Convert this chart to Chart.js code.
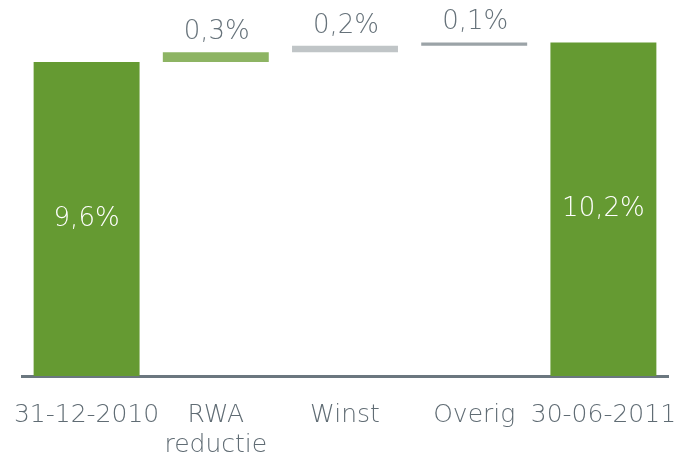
<!DOCTYPE html>
<html>
<head>
<meta charset="utf-8">
<script src="https://cdn.jsdelivr.net/npm/chart.js@4/dist/chart.umd.min.js"></script>
<style>
  html, body { margin: 0; padding: 0; background: #fff; }
  #wrap { width: 681px; height: 461px; }
</style>
</head>
<body>
<div id="wrap"><canvas id="c" width="681" height="461"></canvas></div>
<script>
const categories = ['31-12-2010', ['RWA', 'reductie'], 'Winst', 'Overig', '30-06-2011'];
const values = [9.6, 0.3, 0.2, 0.1, 10.2];
const isTotal = [true, false, false, false, true];
const barColors = ['#659a32', '#8db463', '#c0c5c7', '#9ba3a7', '#659a32'];

// floating ranges for the waterfall, derived from the values
let running = 0;
const ranges = values.map((v, i) => {
  if (isTotal[i]) { running = v; return [0, v]; }
  const r = [running, running + v];
  running += v;
  return r;
});

const fmt = v => v.toFixed(1).replace('.', ',') + '%';

const labelPlugin = {
  id: 'barLabels',
  afterDatasetsDraw(chart) {
    const ctx = chart.ctx;
    const meta = chart.getDatasetMeta(0);
    ctx.save();
    ctx.font = '300 26px "DejaVu Sans"';
    ctx.textAlign = 'center';
    ctx.textBaseline = 'middle';
    meta.data.forEach((el, i) => {
      const top = Math.min(el.y, el.base);
      const bottom = Math.max(el.y, el.base);
      if (isTotal[i]) {
        ctx.fillStyle = '#ffffff';
        ctx.fillText(fmt(values[i]), el.x, (top + bottom) / 2);
      } else {
        ctx.fillStyle = '#66727a';
        ctx.fillText(fmt(values[i]), el.x + 1, top - 20);
      }
    });
    ctx.restore();
  }
};

new Chart(document.getElementById('c'), {
  type: 'bar',
  data: {
    labels: categories,
    datasets: [{
      data: ranges,
      backgroundColor: barColors,
      borderWidth: 0,
      barPercentage: 0.82,
      categoryPercentage: 1.0
    }]
  },
  options: {
    responsive: false,
    animation: false,
    layout: { padding: { left: 22, right: 13, top: 0, bottom: 0 } },
    plugins: { legend: { display: false }, tooltip: { enabled: false } },
    scales: {
      x: {
        grid: { display: false, drawTicks: false },
        border: { display: true, color: '#6b777f', width: 3 },
        ticks: {
          color: '#606c74',
          font: { family: '"DejaVu Sans"', size: 25, weight: 300, lineHeight: 1.2 },
          padding: 24,
          maxRotation: 0,
          autoSkip: false
        },
        afterFit(scale) {
          scale.paddingLeft = 0;
          scale.paddingRight = 0;
          scale.height = 85;
        }
      },
      y: {
        display: false,
        min: 0,
        max: 11.5
      }
    }
  },
  plugins: [labelPlugin]
});
</script>
</body>
</html>
